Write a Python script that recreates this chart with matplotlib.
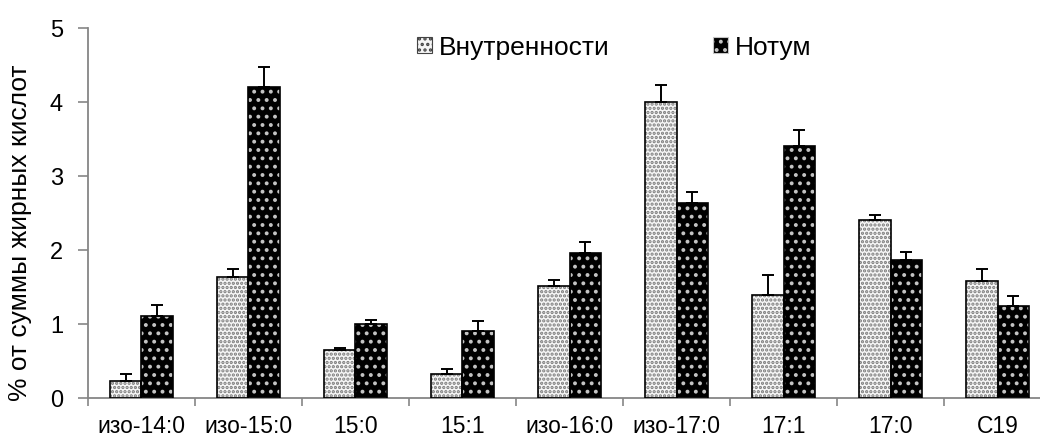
import numpy as np
import matplotlib
matplotlib.use("Agg")
import matplotlib.pyplot as plt
from matplotlib.patches import Patch

# Fatty acid composition (% of total fatty acids)
categories = ["изо-14:0", "изо-15:0", "15:0", "15:1", "изо-16:0",
              "изо-17:0", "17:1", "17:0", "C19"]
series_names = ["Внутренности", "Нотум"]
viscera = [0.23, 1.64, 0.65, 0.33, 1.52, 4.00, 1.39, 2.40, 1.58]
viscera_err = [0.10, 0.11, 0.03, 0.06, 0.07, 0.23, 0.27, 0.07, 0.17]
notum = [1.11, 4.20, 1.00, 0.90, 1.96, 2.64, 3.41, 1.86, 1.24]
notum_err = [0.15, 0.28, 0.05, 0.14, 0.15, 0.14, 0.21, 0.11, 0.14]
y_ticks = [0, 1, 2, 3, 4, 5]

plt.rcParams["font.family"] = ["Liberation Sans", "DejaVu Sans"]
plt.rcParams["hatch.linewidth"] = 1.6

fig = plt.figure(figsize=(10.4, 4.38), dpi=100)
ax = fig.add_axes([0.0846, 0.0913, 0.926, 0.8447])

x = np.arange(len(categories))
w = 0.29
axis_gray = "#868686"
light_fill, light_dots = "#f6f6f6", "#7a7a7a"
dark_fill, dark_dots = "black", "#c4c4c4"

# light dotted bars
ax.bar(x - w / 2, viscera, w, color=light_fill, edgecolor=light_dots,
       hatch="....", linewidth=0, zorder=2)
ax.bar(x - w / 2, viscera, w, facecolor="none", edgecolor="black",
       linewidth=1.2, zorder=3)
# dark dotted bars
ax.bar(x + w / 2, notum, w, color=dark_fill, edgecolor=dark_dots,
       hatch="..", linewidth=0, zorder=2)
ax.bar(x + w / 2, notum, w, facecolor="none", edgecolor="black",
       linewidth=1.2, zorder=3)

zeros = np.zeros(len(categories))
ax.errorbar(x - w / 2, viscera, yerr=[zeros, viscera_err], fmt="none",
            ecolor="black", elinewidth=1.4, capsize=4.5, capthick=1.4,
            zorder=4)
ax.errorbar(x + w / 2, notum, yerr=[zeros, notum_err], fmt="none",
            ecolor="black", elinewidth=1.4, capsize=4.5, capthick=1.4,
            zorder=4)

# legend handles showing the fill patterns
handles = [
    Patch(facecolor=light_fill, edgecolor="#444444", hatch="...", linewidth=0.8),
    Patch(facecolor=dark_fill, edgecolor=dark_dots, hatch="..", linewidth=0.8),
]
ax.legend(handles, series_names, loc="center left",
          bbox_to_anchor=(0.342, 0.947), ncol=2, frameon=False,
          fontsize=19, handlelength=0.55, handleheight=0.55,
          handletextpad=0.25, columnspacing=3.95, borderaxespad=0,
          borderpad=0)

ax.set_xlim(-0.5, len(categories) - 0.5)
ax.set_ylim(0, 5)
ax.set_yticks(y_ticks)
ax.tick_params(axis="y", direction="out", length=7, width=1.2,
               color=axis_gray, labelsize=17, pad=11)

# boundary ticks on the category axis, labels centred between them
ax.set_xticks(np.arange(-0.5, len(categories) + 0.5, 1.0))
ax.set_xticklabels([])
ax.set_xticks(x, minor=True)
ax.set_xticklabels(categories, minor=True)
ax.tick_params(axis="x", which="major", direction="out", length=6,
               width=1.2, color=axis_gray)
ax.tick_params(axis="x", which="minor", length=0, labelsize=16.5, pad=12.5)

for side in ("top", "right"):
    ax.spines[side].set_visible(False)
for side in ("left", "bottom"):
    ax.spines[side].set_color(axis_gray)
    ax.spines[side].set_linewidth(1.3)

ax.set_ylabel("% от суммы жирных кислот", fontsize=19)
ax.yaxis.set_label_coords(-0.058, 0.447)

fig.savefig("out.png", dpi=100)
